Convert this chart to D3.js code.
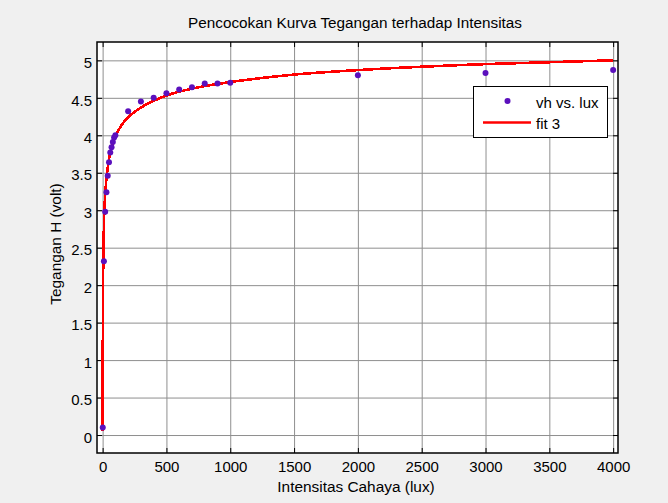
<!DOCTYPE html>
<html>
<head>
<meta charset="utf-8">
<script src="https://cdn.jsdelivr.net/npm/d3@7"></script>
<style>
    body { margin: 0; background: #f0f0f0; }
    text { font-family: "Liberation Sans", Arial, sans-serif; fill: #000; }
</style>
</head>
<body>
<div id="chart"></div>
<script>
// measured points
var lux = [1, 10, 20, 30, 40, 50, 60, 70, 80, 90, 100, 200, 300, 400, 500, 600, 700, 800, 900, 1000, 2000, 3000, 4000];
var vh = [0.10, 2.32, 2.98, 3.24, 3.46, 3.64, 3.77, 3.84, 3.91, 3.97, 4.00, 4.32, 4.45, 4.50, 4.56, 4.61, 4.64, 4.69, 4.69, 4.70, 4.80, 4.83, 4.87];

// fit 3 curve
var fitLux = [0.55, 1, 2, 3, 5, 10, 20, 30, 50, 75, 100, 150, 200, 300, 500, 750, 1000, 1500, 2000, 3000, 4000];
var fitVh = [0.05, 0.76, 1.47, 1.84, 2.27, 2.77, 3.20, 3.42, 3.68, 3.86, 3.98, 4.14, 4.24, 4.37, 4.53, 4.64, 4.71, 4.81, 4.87, 4.95, 5.00];

var xTicks = [0, 500, 1000, 1500, 2000, 2500, 3000, 3500, 4000];
var yTicks = [0, 0.5, 1, 1.5, 2, 2.5, 3, 3.5, 4, 4.5, 5];

var width = 668;
var height = 503;
var pLeft = 97, pRight = 618, pTop = 42, pBottom = 453;

var dot_color = '#5b10bd';
var line_color = '#ff0000';

var svg = d3.select("#chart")
    .append("svg")
    .attr("width", width)
    .attr("height", height);

var x = d3.scaleLinear().domain([-44, 4038]).range([pLeft, pRight]);
var y = d3.scaleLinear().domain([-0.24, 5.245]).range([pBottom, pTop]);

svg.append("rect")
    .attr("x", pLeft)
    .attr("y", pTop)
    .attr("width", pRight - pLeft)
    .attr("height", pBottom - pTop)
    .style("fill", "#fff");

// grid
svg.append("g")
    .attr("class", "grid")
    .attr("transform", "translate(0," + pBottom + ")")
    .call(d3.axisBottom(x).tickValues(xTicks).tickSize(-(pBottom - pTop)).tickFormat(""));

svg.append("g")
    .attr("class", "grid")
    .attr("transform", "translate(" + pLeft + ",0)")
    .call(d3.axisLeft(y).tickValues(yTicks).tickSize(-(pRight - pLeft)).tickFormat(""));

svg.selectAll(".grid .domain").remove();
svg.selectAll(".grid line").style("stroke", "#8f8f8f").style("stroke-width", 1);

// inner ticks on all four sides
var tickLen = 5;
var ticks = svg.append("g").attr("class", "ticks");

ticks.append("g")
    .attr("transform", "translate(0," + pBottom + ")")
    .call(d3.axisBottom(x).tickValues(xTicks).tickSize(-tickLen).tickPadding(8.5).tickFormat(d3.format("d")))
    .call(function (g) {
        g.select(".domain").remove();
        g.selectAll("text").style("font-size", "15px").attr("fill", "#000");
    });

ticks.append("g")
    .attr("transform", "translate(0," + pTop + ")")
    .call(d3.axisTop(x).tickValues(xTicks).tickSize(-tickLen).tickFormat(""))
    .call(function (g) { g.select(".domain").remove(); });

ticks.append("g")
    .attr("transform", "translate(" + pLeft + ",0)")
    .call(d3.axisLeft(y).tickValues(yTicks).tickSize(-tickLen).tickPadding(5).tickFormat(d3.format("")))
    .call(function (g) {
        g.select(".domain").remove();
        g.selectAll("text").style("font-size", "15px").attr("dy", "0.48em").attr("fill", "#000");
    });

ticks.append("g")
    .attr("transform", "translate(" + pRight + ",0)")
    .call(d3.axisRight(y).tickValues(yTicks).tickSize(-tickLen).tickFormat(""))
    .call(function (g) { g.select(".domain").remove(); });

ticks.selectAll("line").style("stroke", "#000");

// fit curve
var pts = fitLux.map(function (d, i) { return [d, fitVh[i]]; });
var line = d3.line()
    .x(function (d) { return x(d[0]); })
    .y(function (d) { return y(d[1]); })
    .curve(d3.curveMonotoneX);

svg.append("path")
    .datum(pts)
    .attr("d", line)
    .style("fill", "none")
    .style("stroke", line_color)
    .style("stroke-width", 2.6)
    .style("shape-rendering", "crispEdges");

svg.selectAll("circle.pt")
    .data(lux)
    .enter()
    .append("circle")
    .attr("class", "pt")
    .attr("cx", function (d) { return x(d); })
    .attr("cy", function (d, i) { return y(vh[i]); })
    .attr("r", 3)
    .style("fill", dot_color);

// box
svg.append("rect")
    .attr("x", pLeft)
    .attr("y", pTop)
    .attr("width", pRight - pLeft)
    .attr("height", pBottom - pTop)
    .style("fill", "none")
    .style("stroke", "#000")
    .style("stroke-width", 1.5);

// legend
var lg = svg.append("g");
lg.append("rect")
    .attr("x", 473.5)
    .attr("y", 86.5)
    .attr("width", 134)
    .attr("height", 51)
    .style("fill", "#fff")
    .style("stroke", "#000")
    .style("stroke-width", 1);
lg.append("circle")
    .attr("cx", 507.5)
    .attr("cy", 101)
    .attr("r", 3)
    .style("fill", dot_color);
lg.append("line")
    .attr("x1", 483)
    .attr("x2", 531)
    .attr("y1", 122.5)
    .attr("y2", 122.5)
    .style("stroke", line_color)
    .style("stroke-width", 2.5);
lg.append("text")
    .attr("x", 536)
    .attr("y", 107.5)
    .style("font-size", "15px")
    .text("vh vs. lux");
lg.append("text")
    .attr("x", 536)
    .attr("y", 129)
    .style("font-size", "15px")
    .text("fit 3");

// titles
svg.append("text")
    .attr("x", 355)
    .attr("y", 28)
    .attr("text-anchor", "middle")
    .style("font-size", "15.3px")
    .text("Pencocokan Kurva Tegangan terhadap Intensitas");

svg.append("text")
    .attr("x", 356)
    .attr("y", 492)
    .attr("text-anchor", "middle")
    .style("font-size", "15.4px")
    .text("Intensitas Cahaya (lux)");

svg.append("text")
    .attr("transform", "translate(61,244) rotate(-90)")
    .attr("text-anchor", "middle")
    .style("font-size", "15.4px")
    .text("Tegangan H (volt)");
</script>
</body>
</html>
